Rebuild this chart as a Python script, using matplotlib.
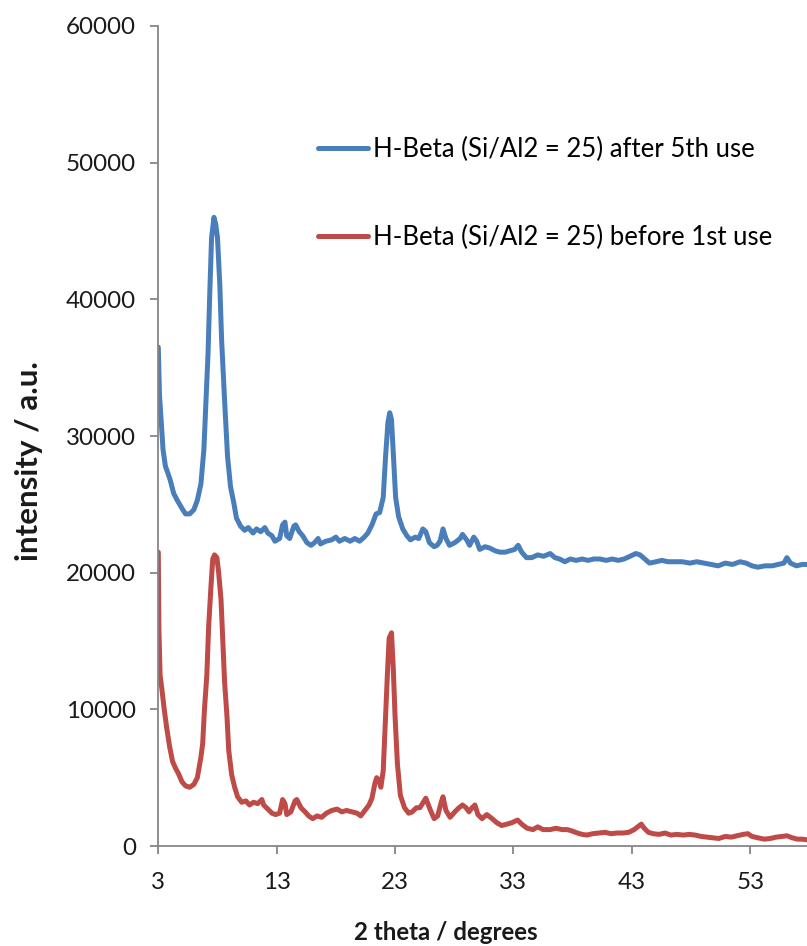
import matplotlib
matplotlib.use("Agg")
import matplotlib.pyplot as plt
from matplotlib.lines import Line2D

# 2-theta positions (degrees) and intensities (a.u.) of the two XRD patterns
theta_after = [3.0, 3.1, 3.4, 3.6, 4.0, 4.3, 4.6, 5.0, 5.3, 5.65, 6.0, 6.3, 6.6, 6.85, 7.0, 7.2,
               7.35, 7.5, 7.7, 7.85, 8.0, 8.2, 8.35, 8.6, 8.85, 9.1, 9.4, 9.6, 9.95, 10.3, 10.6,
               11.0, 11.3, 11.65, 12.0, 12.25, 12.6, 12.85, 13.25, 13.5, 13.7, 13.85, 14.1, 14.45,
               14.6, 14.9, 15.2, 15.55, 15.9, 16.2, 16.5, 16.7, 17.15, 17.65, 18.0, 18.3, 18.75,
               19.2, 19.6, 20.0, 20.4, 20.7, 21.05, 21.4, 21.7, 22.0, 22.2, 22.4, 22.55, 22.7,
               22.9, 23.05, 23.3, 23.65, 24.0, 24.3, 24.7, 25.0, 25.35, 25.6, 25.9, 26.3, 26.55,
               26.8, 27.05, 27.3, 27.6, 28.05, 28.5, 28.7, 29.05, 29.3, 29.65, 29.9, 30.15, 30.6,
               31.0, 31.45, 31.85, 32.3, 32.7, 33.1, 33.4, 33.7, 34.1, 34.55, 35.05, 35.55, 36.1,
               36.5, 36.9, 37.35, 37.8, 38.3, 38.8, 39.3, 39.8, 40.3, 40.85, 41.35, 41.85, 42.35,
               42.85, 43.35, 43.7, 44.1, 44.5, 45.05, 45.55, 46.05, 46.65, 47.25, 47.9, 48.5,
               49.1, 49.7, 50.3, 50.9, 51.5, 52.15, 52.65, 53.15, 53.65, 54.25, 54.85, 55.35,
               55.85, 56.1, 56.4, 56.9, 57.4, 57.8]
intensity_after = [36500, 33000, 29000, 27800, 26800, 25800, 25300, 24700, 24300, 24300, 24600,
                   25300, 26500, 29000, 32000, 36000, 40500, 44500, 46000, 45500, 44500, 41000,
                   37000, 32600, 28500, 26300, 25000, 24000, 23400, 23100, 23300, 22900, 23200,
                   23000, 23300, 22900, 22700, 22300, 22500, 23500, 23700, 22700, 22500, 23400,
                   23500, 23000, 22700, 22200, 22000, 22200, 22500, 22100, 22300, 22400, 22600,
                   22300, 22500, 22300, 22500, 22300, 22600, 22900, 23500, 24300, 24400, 25500,
                   28500, 31000, 31700, 31200, 28000, 25500, 24100, 23200, 22700, 22400, 22600,
                   22500, 23200, 23000, 22200, 21900, 22000, 22300, 23200, 22500, 22000, 22200,
                   22500, 22800, 22400, 22000, 22600, 22300, 21700, 21900, 21800, 21600, 21500,
                   21500, 21600, 21700, 22000, 21500, 21100, 21100, 21300, 21200, 21400, 21100,
                   21000, 20800, 21000, 20900, 21000, 20900, 21000, 21000, 20900, 21000, 20900,
                   21000, 21200, 21400, 21300, 21000, 20700, 20800, 20900, 20800, 20800, 20800,
                   20700, 20800, 20700, 20600, 20500, 20700, 20600, 20800, 20700, 20500, 20400,
                   20500, 20500, 20600, 20700, 21100, 20700, 20500, 20600, 20600]

theta_before = [3.0, 3.05, 3.15, 3.3, 3.5, 3.7, 3.95, 4.2, 4.45, 4.7, 5.0, 5.3, 5.65, 6.0, 6.3,
                6.6, 6.75, 6.9, 7.1, 7.25, 7.45, 7.6, 7.75, 7.95, 8.1, 8.3, 8.45, 8.6, 8.8, 8.95,
                9.2, 9.45, 9.7, 10.05, 10.4, 10.7, 11.05, 11.4, 11.75, 11.9, 12.25, 12.6, 12.9,
                13.25, 13.5, 13.7, 13.85, 14.2, 14.55, 14.7, 15.05, 15.4, 15.7, 16.05, 16.4, 16.8,
                17.2, 17.65, 18.1, 18.5, 18.9, 19.35, 19.8, 20.1, 20.45, 20.8, 21.05, 21.3, 21.45,
                21.65, 21.8, 22.0, 22.15, 22.35, 22.5, 22.7, 22.85, 23.0, 23.2, 23.45, 23.8, 24.15,
                24.45, 24.8, 25.1, 25.45, 25.6, 25.95, 26.3, 26.6, 26.9, 27.05, 27.3, 27.65, 28.05,
                28.4, 28.7, 29.0, 29.25, 29.5, 29.75, 30.0, 30.35, 30.75, 31.2, 31.6, 32.0, 32.45,
                32.85, 33.35, 33.7, 34.15, 34.65, 35.05, 35.5, 36.1, 36.6, 37.1, 37.55, 37.95,
                38.4, 38.8, 39.2, 39.7, 40.25, 40.75, 41.25, 41.75, 42.25, 42.75, 43.2, 43.5, 43.8,
                44.05, 44.4, 44.8, 45.3, 45.8, 46.3, 46.8, 47.35, 47.85, 48.35, 48.85, 49.35,
                49.85, 50.35, 50.9, 51.4, 51.9, 52.4, 52.8, 53.15, 53.65, 54.2, 54.7, 55.2, 55.7,
                56.1, 56.55, 57.0, 57.4, 57.8]
intensity_before = [21500, 16000, 12500, 11500, 10000, 8700, 7300, 6200, 5700, 5300, 4700, 4400,
                    4300, 4500, 5000, 6500, 7500, 10000, 12500, 16000, 19000, 21000, 21300, 21100,
                    20000, 18000, 15000, 12000, 9500, 7000, 5200, 4300, 3600, 3200, 3300, 3000,
                    3200, 3100, 3400, 3000, 2700, 2400, 2300, 2400, 3400, 3100, 2300, 2500, 3300,
                    3400, 2800, 2500, 2200, 2000, 2200, 2100, 2400, 2600, 2700, 2500, 2600, 2500,
                    2400, 2200, 2600, 3000, 3500, 4600, 5000, 4800, 4300, 5500, 8500, 12500, 15200,
                    15600, 13000, 9500, 6000, 3700, 2800, 2400, 2500, 2800, 2800, 3300, 3500, 2700,
                    2000, 2200, 3200, 3600, 2600, 2100, 2500, 2800, 3000, 2800, 2500, 2800, 3000,
                    2300, 2000, 2300, 2000, 1700, 1500, 1600, 1700, 1900, 1600, 1300, 1200, 1400,
                    1200, 1200, 1300, 1200, 1200, 1100, 950, 850, 800, 900, 950, 1000, 900, 950,
                    950, 1000, 1200, 1400, 1600, 1300, 1000, 900, 850, 950, 800, 850, 800, 850, 800,
                    700, 650, 600, 550, 700, 650, 750, 850, 900, 700, 600, 500, 550, 650, 700, 750,
                    600, 500, 500, 450]

label_after = "H-Beta (Si/Al2 = 25) after 5th use"
label_before = "H-Beta (Si/Al2 = 25) before 1st use"
x_ticks = [3, 13, 23, 33, 43, 53]
y_ticks = [0, 10000, 20000, 30000, 40000, 50000, 60000]

blue = "#4A7EBB"
red = "#BE4B48"
axis_grey = "#868686"
text_col = "#1a1a1a"

plt.rcParams["font.family"] = ["Lato", "DejaVu Sans"]

W, H = 807, 946
fig = plt.figure(figsize=(W / 100, H / 100), dpi=100)
ax = fig.add_axes([158.3 / W, 100 / H, 1 - 158.3 / W, 820 / H])

lw = 3.6
ax.plot(theta_after, intensity_after, color=blue, lw=lw, solid_joinstyle="round",
        solid_capstyle="round")
ax.plot(theta_before, intensity_before, color=red, lw=lw, solid_joinstyle="round",
        solid_capstyle="round")

ax.set_xlim(3, 57.8)
ax.set_ylim(0, 60000)
ax.set_xticks(x_ticks)
ax.set_yticks(y_ticks)
ax.set_xticklabels([str(t) for t in x_ticks])
ax.set_yticklabels([str(t) for t in y_ticks])

for side in ("top", "right"):
    ax.spines[side].set_visible(False)
for side in ("left", "bottom"):
    ax.spines[side].set_color(axis_grey)
    ax.spines[side].set_linewidth(1.3)
ax.tick_params(axis="both", direction="out", length=5.5, width=1.3, color=axis_grey,
               labelsize=17.4, labelcolor=text_col)
ax.tick_params(axis="x", pad=13)
ax.tick_params(axis="y", pad=10.5)

fig.text(445.5 / W, 1 - 932 / H, "2 theta / degrees", ha="center", va="center",
         fontsize=17.4, fontweight="bold", color=text_col)
fig.text(29 / W, 1 - 461 / H, "intensity / a.u.", ha="center", va="center",
         rotation=90, fontsize=22.5, fontweight="bold", color=text_col)

handles = [Line2D([], [], color=blue, lw=lw, solid_capstyle="round"),
           Line2D([], [], color=red, lw=lw, solid_capstyle="round")]
ax.legend(handles, [label_after, label_before], loc="upper left",
          bbox_to_anchor=(318 / W, 1 - 136.5 / H), bbox_transform=fig.transFigure,
          frameon=False, fontsize=18.5, handlelength=1.95, handletextpad=0.2,
          labelspacing=2.48, borderpad=0, borderaxespad=0)

fig.savefig("out.png", dpi=100)
